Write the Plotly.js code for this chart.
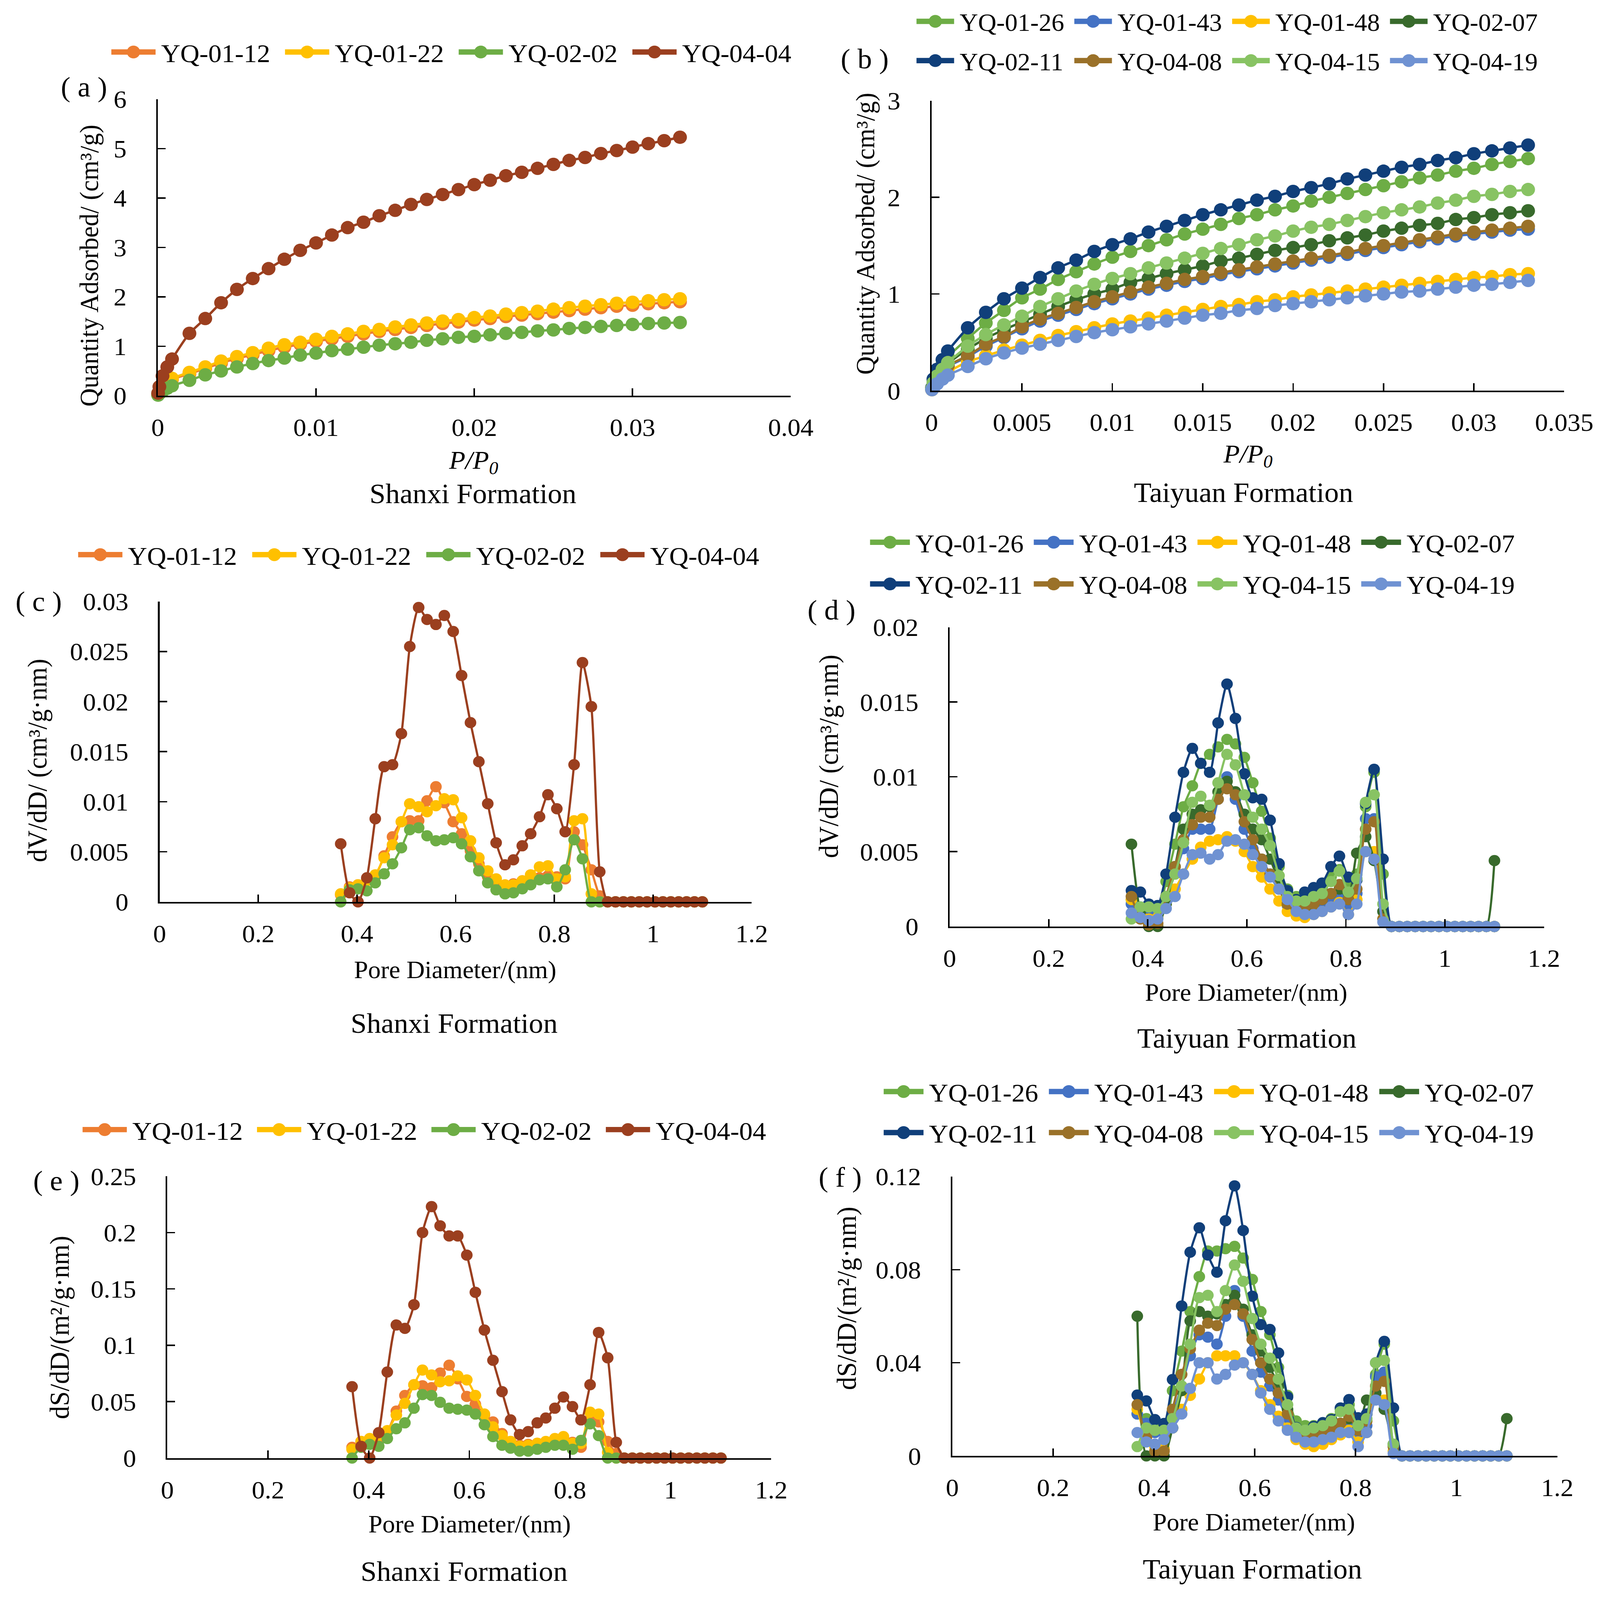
<!DOCTYPE html>
<html><head><meta charset="utf-8">
<script src="https://cdn.plot.ly/plotly-3.0.1.min.js"></script>
<style>
html,body{margin:0;padding:0;background:#fff;overflow:hidden}
#wrap{width:4339px;height:4485px;position:relative;overflow:hidden;background:#fff}
#plot{width:1446.333px;height:1495px;transform-origin:0 0}
</style></head>
<body><div id="wrap"><div id="plot"></div></div>
<script>
// ---------------- DATA ----------------
const pRel = [0.00002,0.0001,0.0003,0.0006,0.0009,0.002,0.003,0.004,0.005,0.006,0.007,0.008,0.009,0.010,0.011,0.012,0.013,0.014,0.015,0.016,0.017,0.018,0.019,0.020,0.021,0.022,0.023,0.024,0.025,0.026,0.027,0.028,0.029,0.030,0.031,0.032,0.033];

const shanxiNames = ["YQ-01-12","YQ-01-22","YQ-02-02","YQ-04-04"];
const qa_0112 = [0.02,0.06,0.14,0.24,0.33,0.44,0.55,0.66,0.75,0.83,0.91,0.98,1.04,1.10,1.15,1.20,1.25,1.30,1.34,1.38,1.42,1.46,1.49,1.53,1.56,1.60,1.63,1.66,1.69,1.72,1.75,1.78,1.81,1.83,1.86,1.88,1.90];
const qa_0122 = [0.02,0.07,0.16,0.26,0.35,0.47,0.58,0.70,0.79,0.87,0.96,1.03,1.08,1.14,1.20,1.25,1.30,1.34,1.39,1.43,1.47,1.51,1.54,1.58,1.61,1.65,1.68,1.71,1.75,1.78,1.81,1.84,1.87,1.89,1.92,1.94,1.96];
const qa_0202 = [0.01,0.04,0.09,0.15,0.20,0.31,0.42,0.50,0.58,0.65,0.71,0.76,0.82,0.86,0.91,0.94,0.98,1.02,1.05,1.08,1.12,1.15,1.18,1.20,1.23,1.26,1.28,1.31,1.33,1.36,1.38,1.40,1.42,1.44,1.46,1.47,1.48];
const qa_0404 = [0.05,0.18,0.40,0.58,0.74,1.26,1.56,1.88,2.15,2.37,2.57,2.76,2.94,3.09,3.25,3.40,3.51,3.64,3.75,3.87,3.97,4.07,4.17,4.27,4.36,4.45,4.52,4.60,4.68,4.76,4.82,4.90,4.96,5.03,5.10,5.16,5.23];

const taiyuanNames = ["YQ-01-26","YQ-01-43","YQ-01-48","YQ-02-07","YQ-02-11","YQ-04-08","YQ-04-15","YQ-04-19"];
const qb_0126 = [0.02,0.09,0.18,0.27,0.35,0.54,0.70,0.83,0.96,1.05,1.15,1.23,1.31,1.38,1.44,1.50,1.56,1.62,1.67,1.72,1.78,1.82,1.87,1.91,1.96,2.00,2.04,2.08,2.12,2.16,2.20,2.23,2.27,2.30,2.34,2.37,2.40];
const qb_0143 = [0.02,0.06,0.12,0.19,0.25,0.35,0.46,0.55,0.64,0.72,0.78,0.84,0.90,0.95,1.00,1.05,1.09,1.13,1.16,1.20,1.23,1.26,1.29,1.32,1.35,1.38,1.41,1.45,1.48,1.51,1.54,1.57,1.60,1.62,1.64,1.66,1.67];
const qb_0148 = [0.01,0.04,0.09,0.14,0.19,0.30,0.36,0.42,0.47,0.52,0.57,0.61,0.65,0.69,0.72,0.75,0.78,0.81,0.84,0.87,0.89,0.92,0.94,0.97,0.99,1.01,1.03,1.05,1.07,1.09,1.11,1.13,1.15,1.17,1.18,1.20,1.21];
const qb_0207 = [0.02,0.07,0.14,0.21,0.28,0.43,0.54,0.63,0.71,0.79,0.87,0.94,1.00,1.05,1.12,1.16,1.21,1.25,1.29,1.34,1.37,1.41,1.45,1.48,1.51,1.55,1.58,1.61,1.65,1.68,1.71,1.73,1.77,1.79,1.82,1.84,1.86];
const qb_0211 = [0.03,0.12,0.22,0.32,0.41,0.65,0.81,0.95,1.06,1.17,1.27,1.35,1.44,1.51,1.57,1.64,1.70,1.76,1.82,1.87,1.92,1.97,2.01,2.06,2.10,2.14,2.19,2.23,2.27,2.31,2.34,2.38,2.41,2.45,2.48,2.51,2.54];
const qb_0408 = [0.02,0.06,0.13,0.20,0.26,0.36,0.48,0.56,0.66,0.74,0.80,0.86,0.92,0.97,1.02,1.07,1.11,1.15,1.18,1.22,1.25,1.28,1.31,1.34,1.37,1.40,1.43,1.47,1.50,1.53,1.56,1.59,1.62,1.64,1.66,1.68,1.70];
const qb_0415 = [0.02,0.08,0.15,0.22,0.29,0.46,0.58,0.68,0.77,0.87,0.95,1.03,1.10,1.16,1.21,1.27,1.32,1.37,1.42,1.47,1.51,1.56,1.60,1.65,1.69,1.72,1.76,1.80,1.84,1.87,1.90,1.94,1.97,2.01,2.03,2.06,2.08];
const qb_0419 = [0.01,0.03,0.07,0.12,0.16,0.25,0.33,0.39,0.44,0.48,0.52,0.56,0.60,0.63,0.66,0.69,0.72,0.75,0.78,0.80,0.83,0.85,0.88,0.90,0.92,0.94,0.96,0.98,1.00,1.02,1.03,1.05,1.07,1.09,1.10,1.12,1.14];

const poreD = [0.367,0.385,0.402,0.420,0.437,0.455,0.472,0.490,0.507,0.525,0.542,0.560,0.577,0.595,0.612,0.630,0.647,0.665,0.682,0.700,0.717,0.735,0.752,0.770,0.787,0.805,0.822,0.840,0.857,0.875,0.892,0.908,0.924,0.940,0.956,0.972,0.988,1.004,1.020,1.036,1.052,1.068,1.084,1.100];

const vc_0112 = [0.0007,0.0015,0.0017,0.0023,0.0026,0.0046,0.0065,0.0080,0.0081,0.0081,0.0101,0.0115,0.0099,0.0080,0.0068,0.0051,0.0038,0.0025,0.0019,0.0015,0.0018,0.0021,0.0023,0.0024,0.0026,0.0025,0.0023,0.0070,0.0057,0.0032,0.0006,0,0,0,0,0,0,0,0,0,0,0,0,0];
const vc_0122 = [0.0008,0.0014,0.0017,0.0021,0.0027,0.0044,0.0057,0.0080,0.0098,0.0095,0.0090,0.0096,0.0103,0.0102,0.0084,0.0061,0.0044,0.0031,0.0023,0.0017,0.0017,0.0021,0.0027,0.0035,0.0036,0.0023,0.0025,0.0081,0.0083,0.0008,0,0,0,0,0,0,0,0,0,0,0,0,0,0];
const vc_0202 = [0,0.0012,0.0013,0.0011,0.0019,0.0028,0.0038,0.0054,0.0072,0.0074,0.0066,0.0061,0.0062,0.0064,0.0058,0.0045,0.0031,0.0019,0.0012,0.0008,0.0009,0.0013,0.0017,0.0022,0.0023,0.0015,0.0032,0.0062,0.0043,0,0,0,0,0,0,0,0,0,0,0,0,0,0,0];
const vc_0404 = [0.0058,0.0009,0,0.0024,0.0083,0.0135,0.0137,0.0168,0.0255,0.0294,0.0282,0.0277,0.0286,0.0270,0.0226,0.0179,0.0140,0.0098,0.0059,0.0037,0.0042,0.0056,0.0068,0.0085,0.0107,0.0093,0.0070,0.0137,0.0239,0.0195,0.0030,0,0,0,0,0,0,0,0,0,0,0,0,0];

const vd_0126 = [0.0018,0.0012,0.0008,0.0009,0.0030,0.0055,0.0080,0.0094,0.0109,0.0115,0.0120,0.0125,0.0122,0.0113,0.0096,0.0077,0.0059,0.0040,0.0025,0.0020,0.0022,0.0024,0.0026,0.0033,0.0038,0.0028,0.0035,0.0080,0.0103,0.0035,0,0,0,0,0,0,0,0,0,0,0,0,0,0];
const vd_0143 = [0.0015,0.0013,0.0010,0.0010,0.0020,0.0035,0.0052,0.0065,0.0065,0.0065,0.0085,0.0100,0.0085,0.0065,0.0052,0.0045,0.0035,0.0025,0.0014,0.0010,0.0010,0.0012,0.0015,0.0018,0.0020,0.0012,0.0022,0.0072,0.0072,0.0010,0,0,0,0,0,0,0,0,0,0,0,0,0,0];
const vd_0148 = [0.0018,0.0008,0.0005,0.0006,0.0015,0.0025,0.0035,0.0045,0.0053,0.0057,0.0058,0.0060,0.0057,0.0050,0.0040,0.0033,0.0025,0.0017,0.0010,0.0007,0.0006,0.0008,0.0010,0.0013,0.0016,0.0008,0.0018,0.0050,0.0050,0.0005,0,0,0,0,0,0,0,0,0,0,0,0,0,0];
const vd_0207 = [0.0055,0.0010,0,0,0.0015,0.0040,0.0065,0.0075,0.0078,0.0080,0.0090,0.0097,0.0090,0.0075,0.0065,0.0058,0.0045,0.0030,0.0015,0.0012,0.0012,0.0015,0.0018,0.0022,0.0025,0.0018,0.0049,0.0060,0.0044,0.0010,0,0,0,0,0,0,0,0,0,0,0,0,0,0.0044];
const vd_0211 = [0.0024,0.0023,0.0015,0.0014,0.0035,0.0073,0.0103,0.0119,0.0109,0.0103,0.0136,0.0162,0.0139,0.0102,0.0086,0.0085,0.0071,0.0042,0.0024,0.0018,0.0023,0.0026,0.0029,0.0040,0.0047,0.0033,0.0031,0.0082,0.0105,0.0045,0,0,0,0,0,0,0,0,0,0,0,0,0,0];
const vd_0408 = [0.0020,0.0005,0.0001,0.0002,0.0020,0.0040,0.0058,0.0068,0.0073,0.0073,0.0085,0.0092,0.0088,0.0070,0.0058,0.0045,0.0035,0.0025,0.0015,0.0013,0.0013,0.0015,0.0018,0.0022,0.0028,0.0018,0.0025,0.0065,0.0070,0.0005,0,0,0,0,0,0,0,0,0,0,0,0,0,0];
const vd_0415 = [0.0005,0.0013,0.0013,0.0012,0.0020,0.0035,0.0056,0.0083,0.0087,0.0081,0.0096,0.0115,0.0108,0.0088,0.0073,0.0065,0.0054,0.0034,0.0020,0.0017,0.0017,0.0020,0.0022,0.0030,0.0037,0.0023,0.0032,0.0083,0.0088,0.0015,0,0,0,0,0,0,0,0,0,0,0,0,0,0];
const vd_0419 = [0.0009,0.0006,0.0004,0.0005,0.0012,0.0020,0.0035,0.0048,0.0049,0.0045,0.0048,0.0057,0.0058,0.0055,0.0048,0.0040,0.0033,0.0025,0.0018,0.0010,0.0008,0.0008,0.0010,0.0013,0.0015,0.0008,0.0015,0.0050,0.0045,0.0003,0,0,0,0,0,0,0,0,0,0,0,0,0,0];

const se_0112 = [0.0095,0.0147,0.0165,0.018,0.0234,0.0416,0.0555,0.0650,0.0641,0.0624,0.0754,0.0823,0.0702,0.0546,0.0477,0.0381,0.032,0.0217,0.0147,0.0113,0.0121,0.013,0.013,0.013,0.0139,0.0139,0.0095,0.035,0.032,0.0147,0.004,0,0,0,0,0,0,0,0,0,0,0,0,0];
const se_0122 = [0.0078,0.0147,0.0173,0.0199,0.0243,0.0381,0.0485,0.0650,0.0780,0.0737,0.0676,0.0685,0.0728,0.0693,0.0555,0.039,0.0277,0.0199,0.0147,0.0104,0.0113,0.013,0.0147,0.0173,0.019,0.013,0.013,0.0407,0.039,0.005,0,0,0,0,0,0,0,0,0,0,0,0,0,0];
const se_0202 = [0,0.0095,0.0121,0.0104,0.0173,0.026,0.0312,0.0442,0.0563,0.0555,0.0494,0.0442,0.0433,0.0425,0.039,0.0295,0.019,0.0113,0.0087,0.0061,0.0061,0.0078,0.0095,0.0113,0.0113,0.0078,0.0156,0.0303,0.0199,0,0,0,0,0,0,0,0,0,0,0,0,0,0,0];
const se_0404 = [0.0633,0.0104,0,0.0225,0.0763,0.118,0.115,0.136,0.200,0.223,0.206,0.197,0.197,0.180,0.147,0.1135,0.0867,0.0589,0.0338,0.0208,0.0234,0.0312,0.0355,0.0442,0.0541,0.0456,0.0338,0.0650,0.1114,0.0889,0.0139,0,0,0,0,0,0,0,0,0,0,0,0,0];

const sf_0126 = [0.018,0.016,0.012,0.011,0.028,0.045,0.062,0.077,0.088,0.088,0.089,0.090,0.085,0.0758,0.062,0.052,0.038,0.026,0.015,0.013,0.013,0.014,0.016,0.020,0.022,0.016,0.018,0.035,0.048,0.015,0,0,0,0,0,0,0,0,0,0,0,0,0,0];
const sf_0143 = [0.018,0.014,0.010,0.010,0.018,0.030,0.043,0.052,0.051,0.048,0.060,0.071,0.060,0.045,0.036,0.030,0.024,0.016,0.009,0.007,0.007,0.008,0.010,0.012,0.014,0.009,0.013,0.034,0.036,0.005,0,0,0,0,0,0,0,0,0,0,0,0,0,0];
const sf_0148 = [0.020,0.008,0.004,0.003,0.012,0.020,0.026,0.033,0.040,0.043,0.043,0.043,0.040,0.035,0.028,0.022,0.017,0.012,0.007,0.005,0.004,0.005,0.007,0.009,0.011,0.006,0.010,0.025,0.024,0.002,0,0,0,0,0,0,0,0,0,0,0,0,0,0];
const sf_0207 = [0.060,0,0,0,0.012,0.028,0.058,0.062,0.060,0.061,0.065,0.069,0.063,0.052,0.045,0.038,0.030,0.020,0.011,0.010,0.010,0.011,0.012,0.014,0.016,0.012,0.024,0.027,0.020,0.005,0,0,0,0,0,0,0,0,0,0,0,0,0,0.016];
const sf_0211 = [0.0261,0.0236,0.0156,0.0139,0.0328,0.0644,0.0875,0.098,0.0863,0.0789,0.101,0.116,0.0968,0.0686,0.0564,0.0543,0.0442,0.0253,0.0122,0.0105,0.0126,0.0143,0.0156,0.0206,0.0242,0.0164,0.018,0.040,0.0492,0.0206,0,0,0,0,0,0,0,0,0,0,0,0,0,0];
const sf_0408 = [0.022,0.008,0.002,0.002,0.020,0.035,0.046,0.054,0.057,0.056,0.063,0.065,0.061,0.050,0.040,0.033,0.027,0.018,0.010,0.008,0.008,0.009,0.011,0.014,0.017,0.011,0.015,0.030,0.032,0.004,0,0,0,0,0,0,0,0,0,0,0,0,0,0];
const sf_0415 = [0.004,0.012,0.011,0.011,0.016,0.030,0.048,0.068,0.069,0.062,0.071,0.082,0.075,0.059,0.048,0.042,0.033,0.022,0.012,0.011,0.012,0.013,0.015,0.019,0.020,0.013,0.016,0.040,0.041,0.005,0,0,0,0,0,0,0,0,0,0,0,0,0,0];
const sf_0419 = [0.010,0.006,0.005,0.007,0.012,0.018,0.029,0.040,0.040,0.033,0.035,0.039,0.040,0.035,0.027,0.020,0.015,0.011,0.008,0.006,0.006,0.007,0.008,0.010,0.010,0.004,0.010,0.024,0.022,0.001,0,0,0,0,0,0,0,0,0,0,0,0,0,0];

const xTicksA = [0,0.01,0.02,0.03,0.04];
const xTicksB = [0,0.005,0.01,0.015,0.02,0.025,0.03,0.035];
const xTicksPore = [0,0.2,0.4,0.6,0.8,1,1.2];

// ---------------- STYLE ----------------
const shanxiColors = ["#ED7D31","#FFC000","#6DAD45","#9B3F1F"];
const taiyuanColors = ["#6DAD45","#4472C4","#FFC000","#386A2C","#103F7A","#9A7129","#88C363","#6F92D2"];
const FONT = "Liberation Serif, Times New Roman, serif";
const W = 4339, H = 4485;
const px = v => v / W;
const py = v => 1 - v / H;

// fit the 4339x4485 design into the viewport the page really has
const vw = window.innerWidth || W, vh = window.innerHeight || H;
const wrapEl = document.getElementById("wrap");
wrapEl.style.width = vw + "px"; wrapEl.style.height = vh + "px";
document.getElementById("plot").style.transform = "scale(" + (3 * vw / W) + "," + (3 * vh / H) + ")";

const traces = [];
function addSeries(xs, ys, name, color, ax, legend, msize, lw) {
  traces.push({
    type: "scatter", mode: "lines+markers", x: xs, y: ys, name: name,
    xaxis: "x" + ax, yaxis: "y" + ax, legend: legend,
    line: {color: color, width: lw, shape: "spline", smoothing: 0.6},
    marker: {color: color, size: msize, symbol: "circle"},
    cliponaxis: false, hoverinfo: "skip"
  });
}
[qa_0112, qa_0122, qa_0202, qa_0404].forEach((s, i) => addSeries(pRel, s, shanxiNames[i], shanxiColors[i], "", "legend", 12.5, 2.2));
[qb_0126, qb_0143, qb_0148, qb_0207, qb_0211, qb_0408, qb_0415, qb_0419].forEach((s, i) => addSeries(pRel, s, taiyuanNames[i], taiyuanColors[i], "2", i < 4 ? "legend2" : "legend3", 12.5, 2.2));
[vc_0112, vc_0122, vc_0202, vc_0404].forEach((s, i) => addSeries(poreD, s, shanxiNames[i], shanxiColors[i], "3", "legend4", 10.5, 2));
[vd_0126, vd_0143, vd_0148, vd_0207, vd_0211, vd_0408, vd_0415, vd_0419].forEach((s, i) => addSeries(poreD, s, taiyuanNames[i], taiyuanColors[i], "4", i < 4 ? "legend5" : "legend6", 10.5, 2));
[se_0112, se_0122, se_0202, se_0404].forEach((s, i) => addSeries(poreD, s, shanxiNames[i], shanxiColors[i], "5", "legend7", 10.5, 2));
[sf_0126, sf_0143, sf_0148, sf_0207, sf_0211, sf_0408, sf_0415, sf_0419].forEach((s, i) => addSeries(poreD, s, taiyuanNames[i], taiyuanColors[i], "6", i < 4 ? "legend8" : "legend9", 10.5, 2));

function xax(x0, x1, range, tickvals, anchor) {
  return {domain: [px(x0), px(x1)], range: range, tickvals: tickvals, anchor: anchor,
    ticks: "inside", ticklen: 7, tickwidth: 1.3, tickcolor: "#000",
    showline: true, linewidth: 1.5, linecolor: "#000", showgrid: false, zeroline: false,
    ticklabelstandoff: 8, tickfont: {family: FONT, size: 23.5, color: "#000"}, fixedrange: true, automargin: false};
}
function yax(y0, y1, range, dtick, anchor) {
  return {domain: [py(y1), py(y0)], range: range, dtick: dtick, tick0: 0, anchor: anchor,
    ticks: "inside", ticklen: 7, tickwidth: 1.3, tickcolor: "#000",
    showline: true, linewidth: 1.5, linecolor: "#000", showgrid: false, zeroline: false,
    ticklabelstandoff: 22, tickfont: {family: FONT, size: 23.5, color: "#000"}, fixedrange: true, automargin: false};
}
// spacing between entries (layout px) = entrywidth + itemwidth + 15
function leg(symX, y, spacingOrig, iw, fs) {
  return {orientation: "h", x: px(symX - 15), y: py(y), xanchor: "left", yanchor: "middle",
    xref: "paper", yref: "paper",
    entrywidth: spacingOrig / 3 - iw - 15, entrywidthmode: "pixels", itemwidth: iw, itemsizing: "constant",
    traceorder: "normal", bgcolor: "rgba(0,0,0,0)", borderwidth: 0,
    font: {family: FONT, size: fs, color: "#000"}, itemclick: false, itemdoubleclick: false};
}
function ann(text, x, y, size, angle) {
  return {text: text, x: px(x), y: py(y), xref: "paper", yref: "paper", showarrow: false,
    xanchor: "center", yanchor: "middle", textangle: angle || 0,
    font: {family: FONT, size: size, color: "#000"}};
}

const layout = {
  width: W / 3, height: H / 3, margin: {l: 0, r: 0, t: 0, b: 0, autoexpand: false},
  paper_bgcolor: "#fff", plot_bgcolor: "rgba(0,0,0,0)", showlegend: true,
  xaxis: xax(428, 2145, [0, 0.04], xTicksA, "y"),
  yaxis: yax(278, 1109, [0, 6], 1, "x"),
  xaxis2: xax(2527, 4243, [0, 0.035], xTicksB, "y2"),
  yaxis2: yax(282, 1095, [0, 3], 1, "x2"),
  xaxis3: xax(433, 2039, [0, 1.2], xTicksPore, "y3"),
  yaxis3: yax(1686, 2528, [0, 0.03], 0.005, "x3"),
  xaxis4: xax(2576, 4188, [0, 1.2], xTicksPore, "y4"),
  yaxis4: yax(1758, 2597, [0, 0.02], 0.005, "x4"),
  xaxis5: xax(454, 2092, [0, 1.2], xTicksPore, "y5"),
  yaxis5: yax(3297, 4087, [0, 0.25], 0.05, "x5"),
  xaxis6: xax(2583, 4224, [0, 1.2], xTicksPore, "y6"),
  yaxis6: yax(3298, 4081, [0, 0.12], 0.04, "x6"),
  legend:  leg(302, 147, 471, 40, 24),
  legend2: leg(2486, 60, 428, 34, 23),
  legend3: leg(2486, 170, 428, 34, 23),
  legend4: leg(212, 1556, 472, 40, 24),
  legend5: leg(2360, 1520, 444, 36, 23.8),
  legend6: leg(2360, 1637, 444, 36, 23.8),
  legend7: leg(224, 3167, 473, 40, 24.3),
  legend8: leg(2397, 3061, 448, 36, 24),
  legend9: leg(2397, 3176, 448, 36, 24),
  annotations: [
    ann("( a )", 228, 244, 26),
    ann("Quantity Adsorbed/ (cm³/g)", 241, 743, 23.8, -90),
    ann("<i>P/P<sub>0</sub></i>", 1284, 1297, 24),
    ann("Shanxi Formation", 1284, 1385, 26),
    ann("( b )", 2346, 166, 26),
    ann("Quantity Adsorbed/ (cm³/g)", 2347, 654, 23.8, -90),
    ann("<i>P/P<sub>0</sub></i>", 3385, 1279, 24),
    ann("Taiyuan Formation", 3374, 1380, 26),
    ann("( c )", 106, 1686, 26),
    ann("dV/dD/ (cm³/g·nm)", 103, 2131, 24.3, -90),
    ann("Pore Diameter/(nm)", 1235, 2720, 22.8),
    ann("Shanxi Formation", 1233, 2870, 26),
    ann("( d )", 2255, 1710, 26),
    ann("dV/dD/ (cm³/g·nm)", 2248, 2120, 24.3, -90),
    ann("Pore Diameter/(nm)", 3379, 2782, 22.8),
    ann("Taiyuan Formation", 3383, 2910, 26),
    ann("( e )", 153, 3310, 26),
    ann("dS/dD/(m²/g·nm)", 164, 3721, 24.6, -90),
    ann("Pore Diameter/(nm)", 1273, 4274, 22.8),
    ann("Shanxi Formation", 1259, 4405, 26),
    ann("( f )", 2278, 3302, 26),
    ann("dS/dD/(m²/g·nm)", 2296, 3641, 24.6, -90),
    ann("Pore Diameter/(nm)", 3400, 4267, 22.8),
    ann("Taiyuan Formation", 3397, 4400, 26)
  ]
};

Plotly.newPlot("plot", traces, layout, {staticPlot: true, displayModeBar: false});
</script>
</body></html>
